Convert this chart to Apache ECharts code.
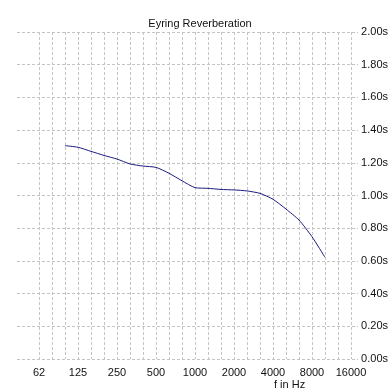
<!DOCTYPE html>
<html>
<head>
<meta charset="utf-8">
<script src="https://cdn.jsdelivr.net/npm/echarts@6/dist/echarts.min.js"></script>
<style>html,body{margin:0;padding:0;background:#fff;}#c{width:391px;height:392px;}</style>
</head>
<body>
<div id="c"></div>
<script>
// Third-octave band centre frequencies (Hz)
var frequencies = [100, 125, 160, 200, 250, 315, 400, 500, 630, 800, 1000, 1250, 1600, 2000, 2500, 3150, 4000, 5000, 6300, 8000, 10000];
// Eyring reverberation time (s)
var reverbTimes = [1.305, 1.295, 1.27, 1.245, 1.223, 1.193, 1.18, 1.172, 1.136, 1.09, 1.048, 1.044, 1.037, 1.034, 1.028, 1.013, 0.977, 0.917, 0.850, 0.748, 0.622];
// Octave tick labels
var octaveLabels = ['62', '125', '250', '500', '1000', '2000', '4000', '8000', '16000'];
var yTicks = [0, 0.2, 0.4, 0.6, 0.8, 1.0, 1.2, 1.4, 1.6, 1.8, 2.0];

// band index relative to 62.5 Hz (3 bands per octave)
function bandIndex(f) { return Math.round(3 * Math.log2(f / 62.5)); }
var seriesData = frequencies.map(function (f, i) { return [bandIndex(f), reverbTimes[i]]; });
var lastBand = (octaveLabels.length - 1) * 3;

var chart = echarts.init(document.getElementById('c'), null, {renderer: 'canvas'});
var font = 'Liberation Sans, Arial, sans-serif';
var gridLine = {color: '#c4c4c4', type: [3, 2], width: 1};
chart.setOption({
  animation: false,
  backgroundColor: '#fff',
  title: {
    text: 'Eyring Reverberation',
    left: 195, top: 13, textAlign: 'center',
    textStyle: {fontFamily: font, fontSize: 11, fontWeight: 'normal', color: '#111'}
  },
  graphic: [{
    type: 'text', left: 274, top: 379,
    style: {text: 'f in Hz', fontFamily: font, fontSize: 11, fill: '#111'}
  }],
  grid: [
    {left: 17, right: 30, top: 32, bottom: 33, containLabel: false},
    {left: 39, right: 40, top: 32, bottom: 33, containLabel: false}
  ],
  xAxis: [
    {gridIndex: 0, type: 'value', min: 0, max: 1, show: false},
    {
      gridIndex: 1, type: 'value',
      min: 0, max: lastBand, interval: 1,
      axisLine: {show: false},
      axisTick: {show: false},
      splitLine: {show: true, lineStyle: gridLine},
      axisLabel: {
        margin: 8, fontFamily: font, fontSize: 11, color: '#111',
        formatter: function (v) {
          var r = Math.round(v);
          return (r % 3 === 0) ? octaveLabels[r / 3] : '';
        }
      }
    }
  ],
  yAxis: [
    {
      gridIndex: 0, type: 'value', position: 'right',
      min: yTicks[0], max: yTicks[yTicks.length - 1], interval: 0.2,
      axisLine: {show: false},
      axisTick: {show: false},
      splitLine: {show: true, lineStyle: gridLine},
      axisLabel: {
        margin: 3, fontFamily: font, fontSize: 11, color: '#111',
        formatter: function (v) { return v.toFixed(2) + 's'; }
      }
    },
    {
      gridIndex: 1, type: 'value',
      min: yTicks[0], max: yTicks[yTicks.length - 1], show: false
    }
  ],
  series: [{
    type: 'line',
    xAxisIndex: 1, yAxisIndex: 1,
    data: seriesData,
    smooth: 0.2,
    symbol: 'none',
    lineStyle: {color: '#1a1a80', width: 1}
  }]
});
</script>
</body>
</html>
